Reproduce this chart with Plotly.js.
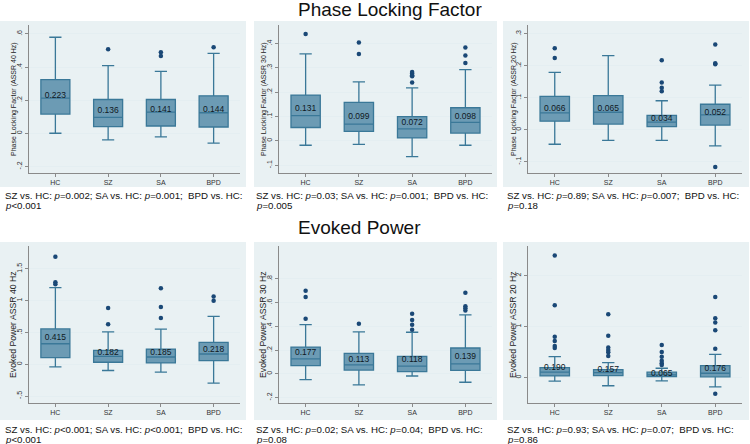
<!DOCTYPE html>
<html>
<head>
<meta charset="utf-8">
<script src="https://cdn.plot.ly/plotly-3.0.1.min.js"></script>
<style>html,body{margin:0;padding:0;background:#fff}#chart{width:750px;height:444px}</style>
</head>
<body>
<div id="chart"></div>
<script>
// ---------- DATA ----------
const groups = ["HC", "SZ", "SA", "BPD"];

// Phase Locking Factor, ASSR 40 Hz
const plf40Low  = [0.000, -0.040, -0.022, -0.060];
const plf40Q1   = [0.116, 0.040, 0.044, 0.038];
const plf40Med  = [0.212, 0.096, 0.128, 0.124];
const plf40Q3   = [0.324, 0.204, 0.204, 0.226];
const plf40High = [0.580, 0.408, 0.374, 0.482];
const plf40Mean = [0.223, 0.136, 0.141, 0.144];
const plf40Out  = [[], [0.508], [0.490, 0.466], [0.520]];

// Phase Locking Factor, ASSR 30 Hz
const plf30Low  = [-0.018, -0.014, -0.065, -0.018];
const plf30Q1   = [0.055, 0.039, 0.012, 0.032];
const plf30Med  = [0.104, 0.069, 0.049, 0.076];
const plf30Q3   = [0.188, 0.158, 0.100, 0.136];
const plf30High = [0.357, 0.242, 0.218, 0.293];
const plf30Mean = [0.131, 0.099, 0.072, 0.098];
const plf30Out  = [[0.439], [0.404, 0.357], [0.283, 0.277, 0.270, 0.265, 0.240], [0.384, 0.351, 0.320]];

// Phase Locking Factor, ASSR 20 Hz
const plf20Low  = [-0.045, -0.033, -0.033, -0.050];
const plf20Q1   = [0.027, 0.018, 0.010, 0.015];
const plf20Med  = [0.053, 0.055, 0.024, 0.047];
const plf20Q3   = [0.105, 0.107, 0.045, 0.080];
const plf20High = [0.180, 0.232, 0.091, 0.140];
const plf20Mean = [0.066, 0.065, 0.034, 0.052];
const plf20Out  = [[0.255, 0.225], [], [0.218, 0.148, 0.132, 0.121], [0.267, 0.208, 0.205, -0.116]];

// Evoked Power, ASSR 40 Hz
const ep40Low  = [-0.042, -0.099, -0.125, -0.296];
const ep40Q1   = [0.104, 0.031, 0.021, 0.057];
const ep40Med  = [0.322, 0.125, 0.114, 0.161];
const ep40Q3   = [0.556, 0.218, 0.239, 0.343];
const ep40High = [1.205, 0.509, 0.551, 0.753];
const ep40Mean = [0.415, 0.182, 0.185, 0.218];
const ep40Out  = [[1.690, 1.290, 1.257], [0.883, 0.629], [1.195, 0.899, 0.727], [1.065, 0.997]];

// Evoked Power, ASSR 30 Hz
const ep30Low  = [-0.050, -0.094, -0.019, -0.072];
const ep30Q1   = [0.069, 0.031, 0.017, 0.028];
const ep30Med  = [0.125, 0.075, 0.064, 0.083];
const ep30Q3   = [0.225, 0.172, 0.147, 0.217];
const ep30High = [0.414, 0.353, 0.350, 0.497];
const ep30Mean = [0.177, 0.113, 0.118, 0.139];
const ep30Out  = [[0.700, 0.647, 0.464], [0.422], [0.506, 0.453, 0.414, 0.372], [0.683, 0.569, 0.553, 0.533]];

// Evoked Power, ASSR 20 Hz
const ep20Low  = [-0.071, -0.162, -0.065, -0.182];
const ep20Q1   = [0.032, 0.039, 0.019, 0.013];
const ep20Med  = [0.104, 0.097, 0.052, 0.084];
const ep20Q3   = [0.195, 0.156, 0.104, 0.234];
const ep20High = [0.409, 0.292, 0.182, 0.455];
const ep20Mean = [0.190, 0.157, 0.065, 0.176];
const ep20Out  = [[2.396, 1.416, 0.800, 0.714, 0.620, 0.580], [1.240, 0.818, 0.591, 0.539, 0.494, 0.422], [0.636, 0.500, 0.409, 0.331, 0.279, 0.247], [1.578, 1.162, 1.078, 0.929, 0.565, -0.318]];

// tick labels
const plf40Ticks = [-0.2, 0, 0.2, 0.4, 0.6];   const plf40TickText = ["-.2", "0", ".2", ".4", ".6"];
const plf30Ticks = [-0.1, 0, 0.1, 0.2, 0.3, 0.4]; const plf30TickText = ["-.1", "0", ".1", ".2", ".3", ".4"];
const plf20Ticks = [-0.1, 0, 0.1, 0.2, 0.3];   const plf20TickText = ["-.1", "0", ".1", ".2", ".3"];
const ep40Ticks = [-0.5, 0, 0.5, 1, 1.5];      const ep40TickText = ["-.5", "0", ".5", "1", "1.5"];
const ep30Ticks = [-0.2, 0, 0.2, 0.4, 0.6, 0.8]; const ep30TickText = ["-.2", "0", ".2", ".4", ".6", ".8"];
const ep20Ticks = [0, 1, 2];                   const ep20TickText = ["0", "1", "2"];

const rowTitles = ["Phase Locking Factor", "Evoked Power"];
const yTitles = ["Phase Locking Factor (ASSR 40 Hz)", "Phase Locking Factor (ASSR 30 Hz)", "Phase Locking Factor (ASSR 20 Hz)",
                 "Evoked Power ASSR 40 Hz", "Evoked Power ASSR 30 Hz", "Evoked Power ASSR 20 Hz"];
const pLine1 = ["SZ vs. HC: <i>p</i>=0.002; SA vs. HC: <i>p</i>=0.001;  BPD vs. HC:",
                "SZ vs. HC: <i>p</i>=0.03; SA vs. HC: <i>p</i>=0.001;  BPD vs. HC:",
                "SZ vs. HC: <i>p</i>=0.89; SA vs. HC: <i>p</i>=0.007;  BPD vs. HC:",
                "SZ vs. HC: <i>p</i>&lt;0.001; SA vs. HC: <i>p</i>&lt;0.001;  BPD vs. HC:",
                "SZ vs. HC: <i>p</i>=0.02; SA vs. HC: <i>p</i>=0.04;  BPD vs. HC:",
                "SZ vs. HC: <i>p</i>=0.93; SA vs. HC: <i>p</i>=0.07;  BPD vs. HC:"];
const pLine2 = ["<i>p</i>&lt;0.001", "<i>p</i>=0.005", "<i>p</i>=0.18",
                "<i>p</i>&lt;0.001", "<i>p</i>=0.08", "<i>p</i>=0.86"];

// ---------- BUILD ----------
const panels = [
  {low: plf40Low, q1: plf40Q1, med: plf40Med, q3: plf40Q3, high: plf40High, mean: plf40Mean, out: plf40Out, ticks: plf40Ticks, tt: plf40TickText, range: [-0.24, 0.654]},
  {low: plf30Low, q1: plf30Q1, med: plf30Med, q3: plf30Q3, high: plf30High, mean: plf30Mean, out: plf30Out, ticks: plf30Ticks, tt: plf30TickText, range: [-0.132, 0.476]},
  {low: plf20Low, q1: plf20Q1, med: plf20Med, q3: plf20Q3, high: plf20High, mean: plf20Mean, out: plf20Out, ticks: plf20Ticks, tt: plf20TickText, range: [-0.135, 0.328]},
  {low: ep40Low, q1: ep40Q1, med: ep40Med, q3: ep40Q3, high: ep40High, mean: ep40Mean, out: ep40Out, ticks: ep40Ticks, tt: ep40TickText, range: [-0.61, 1.86]},
  {low: ep30Low, q1: ep30Q1, med: ep30Med, q3: ep30Q3, high: ep30High, mean: ep30Mean, out: ep30Out, ticks: ep30Ticks, tt: ep30TickText, range: [-0.247, 1.078]},
  {low: ep20Low, q1: ep20Q1, med: ep20Med, q3: ep20Q3, high: ep20High, mean: ep20Mean, out: ep20Out, ticks: ep20Ticks, tt: ep20TickText, range: [-0.5, 2.58]}
];

const W = 750, H = 444;
const px = v => v / W, py = v => 1 - v / H;
const plotX = [[29, 240], [279, 492], [528, 742]];
const plotY = [[25, 173], [246, 403]];
const outerX = [[0, 246], [254, 497], [503, 749]];
const outerY = [[21, 187], [242, 420]];
const textY = [[195, 206], [429, 439]];
const textX = [3, 254, 505];
const yTitleX = [[14, 264, 514], [12.5, 262.5, 512.5]];
const yTitleSize = [7, 8.7];

const FONT = "Liberation Sans, Arial, Helvetica, sans-serif";
const data = [];
const layout = {
  width: W, height: H,
  margin: {l: 0, r: 0, t: 0, b: 0},
  paper_bgcolor: "#ffffff",
  plot_bgcolor: "#ffffff",
  showlegend: false,
  font: {family: FONT, color: "#222"},
  shapes: [], annotations: []
};

panels.forEach((p, i) => {
  const r = Math.floor(i / 3), c = i % 3;
  const s = i === 0 ? "" : String(i + 1);
  const xa = "x" + s, ya = "y" + s;

  data.push({
    type: "box", xaxis: xa, yaxis: ya,
    x: groups, q1: p.q1, median: p.med, q3: p.q3,
    lowerfence: p.low, upperfence: p.high,
    boxpoints: false, width: 0.55, whiskerwidth: 0.42,
    fillcolor: "rgb(108,155,180)",
    line: {color: "rgb(58,120,152)", width: 1.3},
    hoverinfo: "skip"
  });

  const ox = [], oy = [];
  p.out.forEach((arr, g) => arr.forEach(v => { ox.push(groups[g]); oy.push(v); }));
  data.push({
    type: "scatter", mode: "markers", xaxis: xa, yaxis: ya,
    x: ox, y: oy,
    marker: {color: "rgb(26,72,118)", size: 4.5},
    hoverinfo: "skip"
  });

  data.push({
    type: "scatter", mode: "text", xaxis: xa, yaxis: ya,
    x: groups, y: p.mean,
    text: p.mean.map(v => v.toFixed(3)),
    textposition: "middle center",
    textfont: {family: FONT, size: 8.5, color: "#10191f"},
    hoverinfo: "skip"
  });

  layout["xaxis" + s] = {
    domain: [px(plotX[c][0]), px(plotX[c][1])],
    anchor: ya, type: "category", categoryarray: groups,
    range: [-0.5, 3.5],
    showline: true, linecolor: "#8a8a8a", linewidth: 1,
    ticks: "outside", ticklen: 3, tickcolor: "#8a8a8a",
    showgrid: false, zeroline: false,
    tickfont: {family: FONT, size: 7, color: "#333"}
  };
  layout["yaxis" + s] = {
    domain: [py(plotY[r][1]), py(plotY[r][0])],
    anchor: xa, range: p.range,
    tickvals: p.ticks, ticktext: p.tt, tickangle: -90,
    showline: true, linecolor: "#8a8a8a", linewidth: 1,
    ticks: "outside", ticklen: 3, tickcolor: "#8a8a8a",
    showgrid: true, gridcolor: "rgb(228,238,241)", gridwidth: 1,
    zeroline: false,
    tickfont: {family: FONT, size: 7, color: "#333"}
  };

  layout.annotations.push({
    xref: "paper", yref: "paper",
    x: px(yTitleX[r][c]), y: py((plotY[r][0] + plotY[r][1]) / 2),
    xanchor: "center", yanchor: "middle", textangle: -90, showarrow: false,
    text: yTitles[i], font: {family: FONT, size: yTitleSize[r], color: "#222"}
  });

  layout.shapes.push({
    type: "rect", xref: "paper", yref: "paper", layer: "below",
    x0: px(outerX[c][0]), x1: px(outerX[c][1]),
    y0: py(outerY[r][1]), y1: py(outerY[r][0]),
    fillcolor: "rgb(233,241,243)", line: {width: 0}
  });

  layout.annotations.push({
    xref: "paper", yref: "paper", x: px(textX[c]), y: py(textY[r][0]),
    xanchor: "left", yanchor: "middle", showarrow: false,
    text: pLine1[i], font: {family: FONT, size: 9.7, color: "#111"}
  });
  layout.annotations.push({
    xref: "paper", yref: "paper", x: px(textX[c]), y: py(textY[r][1]),
    xanchor: "left", yanchor: "middle", showarrow: false,
    text: pLine2[i], font: {family: FONT, size: 9.7, color: "#111"}
  });
});

layout.annotations.push({
  xref: "paper", yref: "paper", x: px(390), y: py(10),
  xanchor: "center", yanchor: "middle", showarrow: false,
  text: rowTitles[0], font: {family: FONT, size: 19, color: "#111"}
});
layout.annotations.push({
  xref: "paper", yref: "paper", x: px(359), y: py(227),
  xanchor: "center", yanchor: "middle", showarrow: false,
  text: rowTitles[1], font: {family: FONT, size: 19, color: "#111"}
});

Plotly.newPlot("chart", data, layout, {staticPlot: true, displayModeBar: false});
</script>
</body>
</html>
